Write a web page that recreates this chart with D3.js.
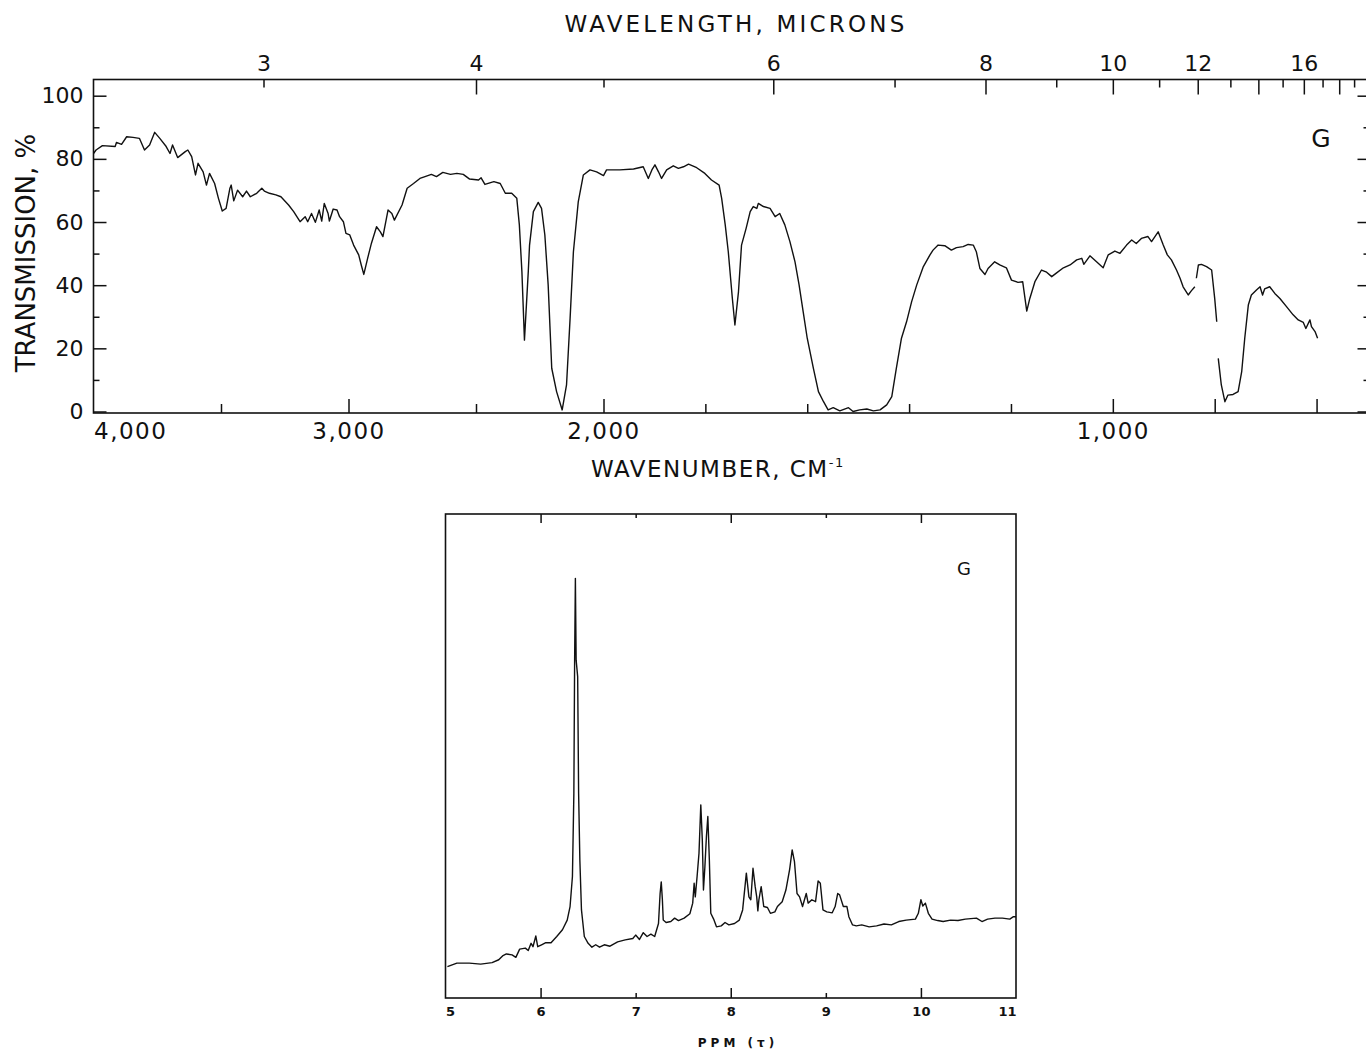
<!DOCTYPE html>
<html>
<head>
<meta charset="utf-8">
<script src="https://cdn.jsdelivr.net/npm/d3@7"></script>
<style>
  body { margin: 0; background: #fff; }
  svg text { font-family: "DejaVu Sans", sans-serif; fill: #111; }
</style>
</head>
<body>
<svg id="chart" width="1366" height="1053"></svg>
<script>
// IR trace, [wavenumber cm-1, transmission %]; a null transmission is where the pen lifted
const ir_trace = [
  [4000, 81.7], [3990, 82.8], [3965, 84.2], [3915, 83.9], [3910, 85.2], [3890, 84.6], [3870, 87.0],
  [3845, 86.8], [3820, 86.5], [3800, 82.8], [3780, 84.4], [3760, 88.4], [3740, 86.5], [3715, 83.9],
  [3700, 81.7], [3690, 84.4], [3670, 80.4], [3640, 82.3], [3630, 82.8], [3615, 80.7], [3600, 74.9],
  [3590, 78.6], [3570, 75.9], [3557, 71.7], [3545, 75.4], [3525, 72.2], [3510, 67.5], [3495, 63.5],
  [3480, 64.3], [3465, 70.7], [3460, 71.7], [3450, 66.7], [3435, 70.1], [3415, 68.0], [3400, 69.8],
  [3385, 68.0], [3360, 69.1], [3340, 70.7], [3330, 69.8], [3310, 69.1], [3285, 68.6], [3265, 68.0],
  [3235, 65.4], [3215, 63.3], [3190, 60.1], [3170, 61.7], [3160, 60.1], [3145, 62.7], [3130, 59.9],
  [3115, 63.8], [3105, 60.3], [3095, 65.9], [3080, 62.7], [3075, 60.3], [3060, 64.1], [3045, 63.8],
  [3035, 61.7], [3020, 60.1], [3010, 56.4], [2995, 55.9], [2980, 52.7], [2960, 49.6], [2950, 46.4],
  [2940, 43.4], [2925, 48.5], [2910, 53.3], [2890, 58.5], [2875, 56.9], [2865, 55.4], [2845, 63.8],
  [2830, 62.7], [2820, 60.6], [2790, 65.4], [2770, 70.7], [2745, 72.2], [2720, 73.8], [2700, 74.4],
  [2675, 75.1], [2655, 74.4], [2630, 75.7], [2600, 75.1], [2575, 75.4], [2550, 75.1], [2525, 73.6],
  [2490, 73.3], [2480, 74.0], [2465, 71.9], [2430, 72.8], [2405, 72.2], [2385, 69.1], [2360, 69.1],
  [2340, 67.5], [2330, 59.1], [2320, 44.3], [2310, 22.6], [2295, 44.3], [2290, 52.7], [2275, 63.3],
  [2256, 66.2], [2243, 64.3], [2230, 55.9], [2217, 40.1], [2203, 13.7], [2184, 6.3], [2162, 0.5],
  [2145, 8.4], [2131, 29.5], [2118, 50.6], [2099, 66.4], [2079, 74.9], [2053, 76.5], [2027, 75.9],
  [2000, 74.7], [1994, 76.5], [1968, 76.5], [1941, 76.8], [1922, 77.5], [1912, 73.8], [1905, 76.5],
  [1899, 78.1], [1892, 75.9], [1886, 73.8], [1876, 76.5], [1863, 77.8], [1853, 77.0], [1843, 77.5],
  [1833, 78.3], [1817, 77.2], [1801, 75.4], [1788, 73.3], [1773, 71.7], [1768, 67.5], [1761, 59.1],
  [1755, 50.6], [1747, 35.8], [1742, 27.4], [1735, 37.9], [1729, 52.7], [1720, 58.0], [1712, 63.3],
  [1706, 64.9], [1699, 64.3], [1696, 65.9], [1686, 64.9], [1673, 64.3], [1663, 61.7], [1654, 62.7],
  [1644, 59.1], [1634, 53.8], [1624, 47.4], [1616, 40.1], [1608, 31.6], [1600, 23.2], [1588, 13.7],
  [1578, 6.3], [1568, 3.1], [1559, 0.5], [1549, 1.2], [1536, 0.2], [1519, 1.2], [1510, 0],
  [1497, 0.5], [1483, 0.8], [1470, 0.2], [1457, 0.5], [1444, 2.1], [1434, 4.7], [1425, 13.7],
  [1415, 23.2], [1405, 28.4], [1395, 34.8], [1385, 40.1], [1372, 45.9], [1359, 49.6], [1353, 51.1],
  [1343, 52.7], [1330, 52.5], [1317, 51.1], [1307, 51.9], [1294, 52.2], [1284, 52.9], [1274, 52.7],
  [1268, 50.6], [1261, 45.3], [1251, 43.4], [1245, 45.3], [1232, 47.4], [1222, 46.4], [1209, 45.5],
  [1199, 41.6], [1186, 40.9], [1177, 41.1], [1169, 31.8], [1163, 35.8], [1153, 41.1], [1140, 44.8],
  [1130, 44.1], [1120, 42.7], [1111, 43.8], [1097, 45.5], [1084, 46.4], [1071, 48.0], [1061, 48.5],
  [1057, 46.6], [1045, 49.3], [1032, 47.4], [1019, 45.5], [1009, 49.6], [996, 50.8], [986, 50.1],
  [973, 52.7], [963, 54.3], [954, 53.2], [944, 54.8], [931, 55.4], [924, 53.8], [911, 56.9],
  [901, 52.7], [893, 49.6], [885, 48.0], [875, 44.8], [868, 42.2], [862, 39.5], [852, 36.9],
  [846, 38.2], [839, 39.5], [838, null], [836, 42.2], [832, 46.4], [826, 46.6], [816, 45.9],
  [806, 44.8], [800, 35.8], [796, 28.4], [795, null], [793, 16.8], [787, 8.4], [780, 3.1],
  [774, 5.2], [764, 5.4], [754, 6.3], [747, 12.6], [741, 23.2], [734, 33.7], [728, 36.9],
  [718, 38.5], [711, 39.5], [706, 36.9], [702, 38.8], [692, 39.5], [682, 37.4], [672, 35.8],
  [659, 33.2], [646, 30.6], [636, 29.0], [626, 28.2], [621, 26.3], [613, 29.0], [610, 26.9],
  [603, 25.3], [598, 23.2]
];

// wavelength (microns) ticks on top, wavenumber ticks on bottom
const ir_micron_long = [4, 6, 8, 10, 12, 14, 16, 18];
const ir_micron_short = [3, 5, 7, 9, 11, 13, 15, 17, 19];
const ir_micron_labels = [3, 4, 6, 8, 10, 12, 16];
const ir_wn_long = [3000, 2000, 1000, 800, 600];
const ir_wn_short = [3500, 2500, 1800, 1600, 1400, 1200];
const ir_wn_labels = [4000, 3000, 2000, 1000];
const ir_t_major = [0, 20, 40, 60, 80, 100];
const ir_t_minor = [10, 30, 50, 70, 90];

// NMR trace, [ppm (tau), relative intensity]
const nmr_trace = [
  [5.02, 6.5], [5.12, 7.2], [5.25, 7.2], [5.37, 7.0], [5.49, 7.3], [5.56, 7.9], [5.60, 8.7],
  [5.64, 9.1], [5.70, 8.9], [5.74, 8.4], [5.78, 10.1], [5.84, 10.3], [5.87, 9.8], [5.90, 11.3],
  [5.92, 10.6], [5.95, 12.8], [5.97, 10.6], [6.01, 11.0], [6.05, 11.4], [6.11, 11.4], [6.17, 12.7],
  [6.23, 14.1], [6.28, 16.1], [6.31, 18.9], [6.335, 25.1], [6.35, 42.3], [6.358, 69.8], [6.366, 86.7],
  [6.374, 69.8], [6.39, 66.4], [6.40, 42.3], [6.413, 28.5], [6.43, 18.2], [6.46, 12.7], [6.50, 11.3],
  [6.54, 10.5], [6.58, 11.0], [6.62, 10.5], [6.67, 11.0], [6.73, 10.7], [6.81, 11.6], [6.89, 12.0],
  [6.97, 12.3], [7.00, 13.0], [7.04, 12.1], [7.08, 13.5], [7.12, 12.7], [7.16, 13.2], [7.20, 12.7],
  [7.24, 15.4], [7.257, 21.6], [7.269, 24.0], [7.281, 20.3], [7.29, 16.1], [7.32, 15.6], [7.37, 15.8],
  [7.41, 16.5], [7.45, 16.0], [7.51, 16.5], [7.57, 17.4], [7.60, 19.6], [7.615, 23.7], [7.627, 20.9],
  [7.646, 25.1], [7.666, 29.9], [7.685, 39.9], [7.701, 32.6], [7.713, 22.3], [7.728, 27.1],
  [7.744, 33.3], [7.759, 37.5], [7.775, 28.5], [7.79, 17.5], [7.82, 16.3], [7.85, 14.7], [7.90, 14.9],
  [7.94, 15.6], [7.98, 15.1], [8.04, 15.4], [8.09, 16.1], [8.125, 18.2], [8.164, 25.8], [8.191, 20.9],
  [8.211, 20.3], [8.234, 26.8], [8.257, 23.0], [8.273, 20.9], [8.285, 18.0], [8.296, 20.3],
  [8.32, 23.0], [8.347, 18.9], [8.386, 18.7], [8.417, 17.5], [8.464, 17.8], [8.491, 18.9],
  [8.541, 19.9], [8.58, 22.3], [8.619, 26.5], [8.646, 30.6], [8.67, 28.2], [8.697, 21.6],
  [8.724, 20.9], [8.755, 18.9], [8.794, 21.6], [8.814, 19.6], [8.853, 20.3], [8.892, 19.9],
  [8.919, 24.2], [8.942, 23.7], [8.97, 18.2], [9.01, 17.8], [9.067, 17.6], [9.098, 18.9],
  [9.125, 21.6], [9.145, 21.3], [9.184, 18.9], [9.222, 18.9], [9.242, 16.8], [9.281, 15.1],
  [9.32, 14.9], [9.378, 15.1], [9.456, 14.7], [9.534, 14.9], [9.612, 15.3], [9.689, 15.1],
  [9.767, 15.8], [9.845, 16.1], [9.942, 16.3], [9.973, 17.5], [10.00, 20.3], [10.02, 19.0],
  [10.047, 19.6], [10.078, 17.5], [10.117, 16.3], [10.176, 16.0], [10.234, 15.8], [10.312, 16.1],
  [10.39, 16.0], [10.467, 16.3], [10.584, 16.5], [10.642, 15.8], [10.701, 16.3], [10.779, 16.5],
  [10.857, 16.5], [10.935, 16.3], [10.973, 16.8], [11.0, 16.8]
];

const nmr_long = [6, 8, 10];
const nmr_short = [7, 9];
const nmr_labels = [5, 6, 7, 8, 9, 10, 11];

const ink = '#111';
const svg = d3.select('#chart');

// draws only the tick marks of an axis (domain line removed, frame is drawn separately)
function tick_marks(axis, values, size, tx, ty) {
  svg.append('g')
    .attr('transform', `translate(${tx},${ty})`)
    .call(axis.tickValues(values).tickSize(size).tickSizeOuter(0).tickFormat(''))
    .call(g => g.select('.domain').remove())
    .selectAll('line').attr('stroke', ink).attr('stroke-width', 1.5);
}

// draws only the labels of an axis
function tick_labels(axis, values, fmt, pad, tx, ty, font_size, weight) {
  const g = svg.append('g')
    .attr('transform', `translate(${tx},${ty})`)
    .call(axis.tickValues(values).tickSize(0).tickPadding(pad).tickFormat(fmt));
  g.select('.domain').remove();
  g.selectAll('text')
    .attr('font-family', '"DejaVu Sans", sans-serif')
    .attr('font-size', font_size)
    .attr('font-weight', weight || 'normal')
    .attr('fill', ink);
  return g;
}

// ---------------- IR spectrum ----------------
const ir_left = 93.5, ir_right = 1367.5, ir_top = 79.5, ir_bottom = 413;

const ir_x = d3.scaleLinear()
  .domain([4000, 2000, 500])  // chart paper changes scale at 2000 cm-1
  .range([ir_left, 603.5, ir_right]);

const ir_y = d3.scaleLinear()
  .domain([0, 100])
  .range([411.5, 95.7]);

svg.append('rect')
  .attr('x', ir_left).attr('y', ir_top)
  .attr('width', ir_right - ir_left).attr('height', ir_bottom - ir_top)
  .attr('fill', 'none').attr('stroke', ink).attr('stroke-width', 1.6);

const micron = m => 10000 / m;

// top, wavelength
tick_marks(d3.axisBottom(ir_x), ir_micron_long.map(micron), 15, 0, ir_top);
tick_marks(d3.axisBottom(ir_x), ir_micron_short.map(micron), 8, 0, ir_top);
tick_labels(d3.axisTop(ir_x), ir_micron_labels.map(micron), v => Math.round(10000 / v), 9, 0, ir_top, 22);

// bottom, wavenumber
tick_marks(d3.axisTop(ir_x), ir_wn_long, 14, 0, ir_bottom);
tick_marks(d3.axisTop(ir_x), ir_wn_short, 9, 0, ir_bottom);
const wn_lab = tick_labels(d3.axisBottom(ir_x), ir_wn_labels, d3.format(','), 10, 0, ir_bottom, 23);
wn_lab.selectAll('text').attr('letter-spacing', 1.5)
  .attr('text-anchor', d => d === 4000 ? 'start' : 'middle');

// left and right, transmission
tick_marks(d3.axisRight(ir_y), ir_t_major, 13, ir_left, 0);
tick_marks(d3.axisRight(ir_y), ir_t_minor, 6, ir_left, 0);
tick_marks(d3.axisLeft(ir_y), ir_t_major, 10, ir_right, 0);
tick_marks(d3.axisLeft(ir_y), ir_t_minor, 4, ir_right, 0);
tick_labels(d3.axisLeft(ir_y), ir_t_major, d => d, 10, ir_left, 0, 22);

const ir_line = d3.line()
  .defined(d => d[1] !== null)
  .x(d => ir_x(d[0]))
  .y(d => ir_y(d[1]));

svg.append('path')
  .datum(ir_trace)
  .attr('d', ir_line)
  .attr('fill', 'none')
  .attr('stroke', ink)
  .attr('stroke-width', 1.4)
  .attr('stroke-linejoin', 'round');

svg.append('text')
  .attr('x', 736).attr('y', 32)
  .attr('text-anchor', 'middle')
  .attr('font-size', 23).attr('letter-spacing', 3.2)
  .text('WAVELENGTH, MICRONS');

svg.append('text')
  .attr('transform', 'translate(35,253) rotate(-90)')
  .attr('text-anchor', 'middle')
  .attr('font-size', 26)
  .text('TRANSMISSION, %');

const wn_title = svg.append('text')
  .attr('x', 591).attr('y', 477)
  .attr('font-size', 23).attr('letter-spacing', 1.5);
wn_title.append('tspan').text('WAVENUMBER, CM');
wn_title.append('tspan').attr('font-size', 13).attr('dy', -10).text('-1');

svg.append('text')
  .attr('x', 1321).attr('y', 147)
  .attr('text-anchor', 'middle')
  .attr('font-size', 25)
  .text('G');

// ---------------- NMR spectrum ----------------
const nmr_left = 445.5, nmr_right = 1016, nmr_top = 514, nmr_bottom = 998;

const nmr_x = d3.scaleLinear().domain([5, 11]).range([nmr_left, nmr_right]);
const nmr_y = d3.scaleLinear().domain([0, 100]).range([nmr_bottom, nmr_top]);

svg.append('rect')
  .attr('x', nmr_left).attr('y', nmr_top)
  .attr('width', nmr_right - nmr_left).attr('height', nmr_bottom - nmr_top)
  .attr('fill', 'none').attr('stroke', ink).attr('stroke-width', 1.6);

tick_marks(d3.axisBottom(nmr_x), nmr_long, 9, 0, nmr_top);
tick_marks(d3.axisBottom(nmr_x), nmr_short, 4, 0, nmr_top);
tick_marks(d3.axisTop(nmr_x), nmr_long, 10, 0, nmr_bottom);
tick_marks(d3.axisTop(nmr_x), nmr_short, 5, 0, nmr_bottom);
const ppm_lab = tick_labels(d3.axisBottom(nmr_x), nmr_labels, d => d, 9, 0, nmr_bottom, 13, 'bold');
ppm_lab.selectAll('text')
  .attr('text-anchor', d => d === 5 ? 'start' : (d === 11 ? 'end' : 'middle'));

svg.append('path')
  .datum(nmr_trace)
  .attr('d', d3.line().x(d => nmr_x(d[0])).y(d => nmr_y(d[1])))
  .attr('fill', 'none')
  .attr('stroke', ink)
  .attr('stroke-width', 1.4)
  .attr('stroke-linejoin', 'round');

svg.append('text')
  .attr('x', 738).attr('y', 1047)
  .attr('text-anchor', 'middle')
  .attr('font-size', 12).attr('font-weight', 'bold').attr('letter-spacing', 4)
  .text('PPM (τ)');

svg.append('text')
  .attr('x', 964).attr('y', 575)
  .attr('text-anchor', 'middle')
  .attr('font-size', 18)
  .text('G');
</script>
</body>
</html>
